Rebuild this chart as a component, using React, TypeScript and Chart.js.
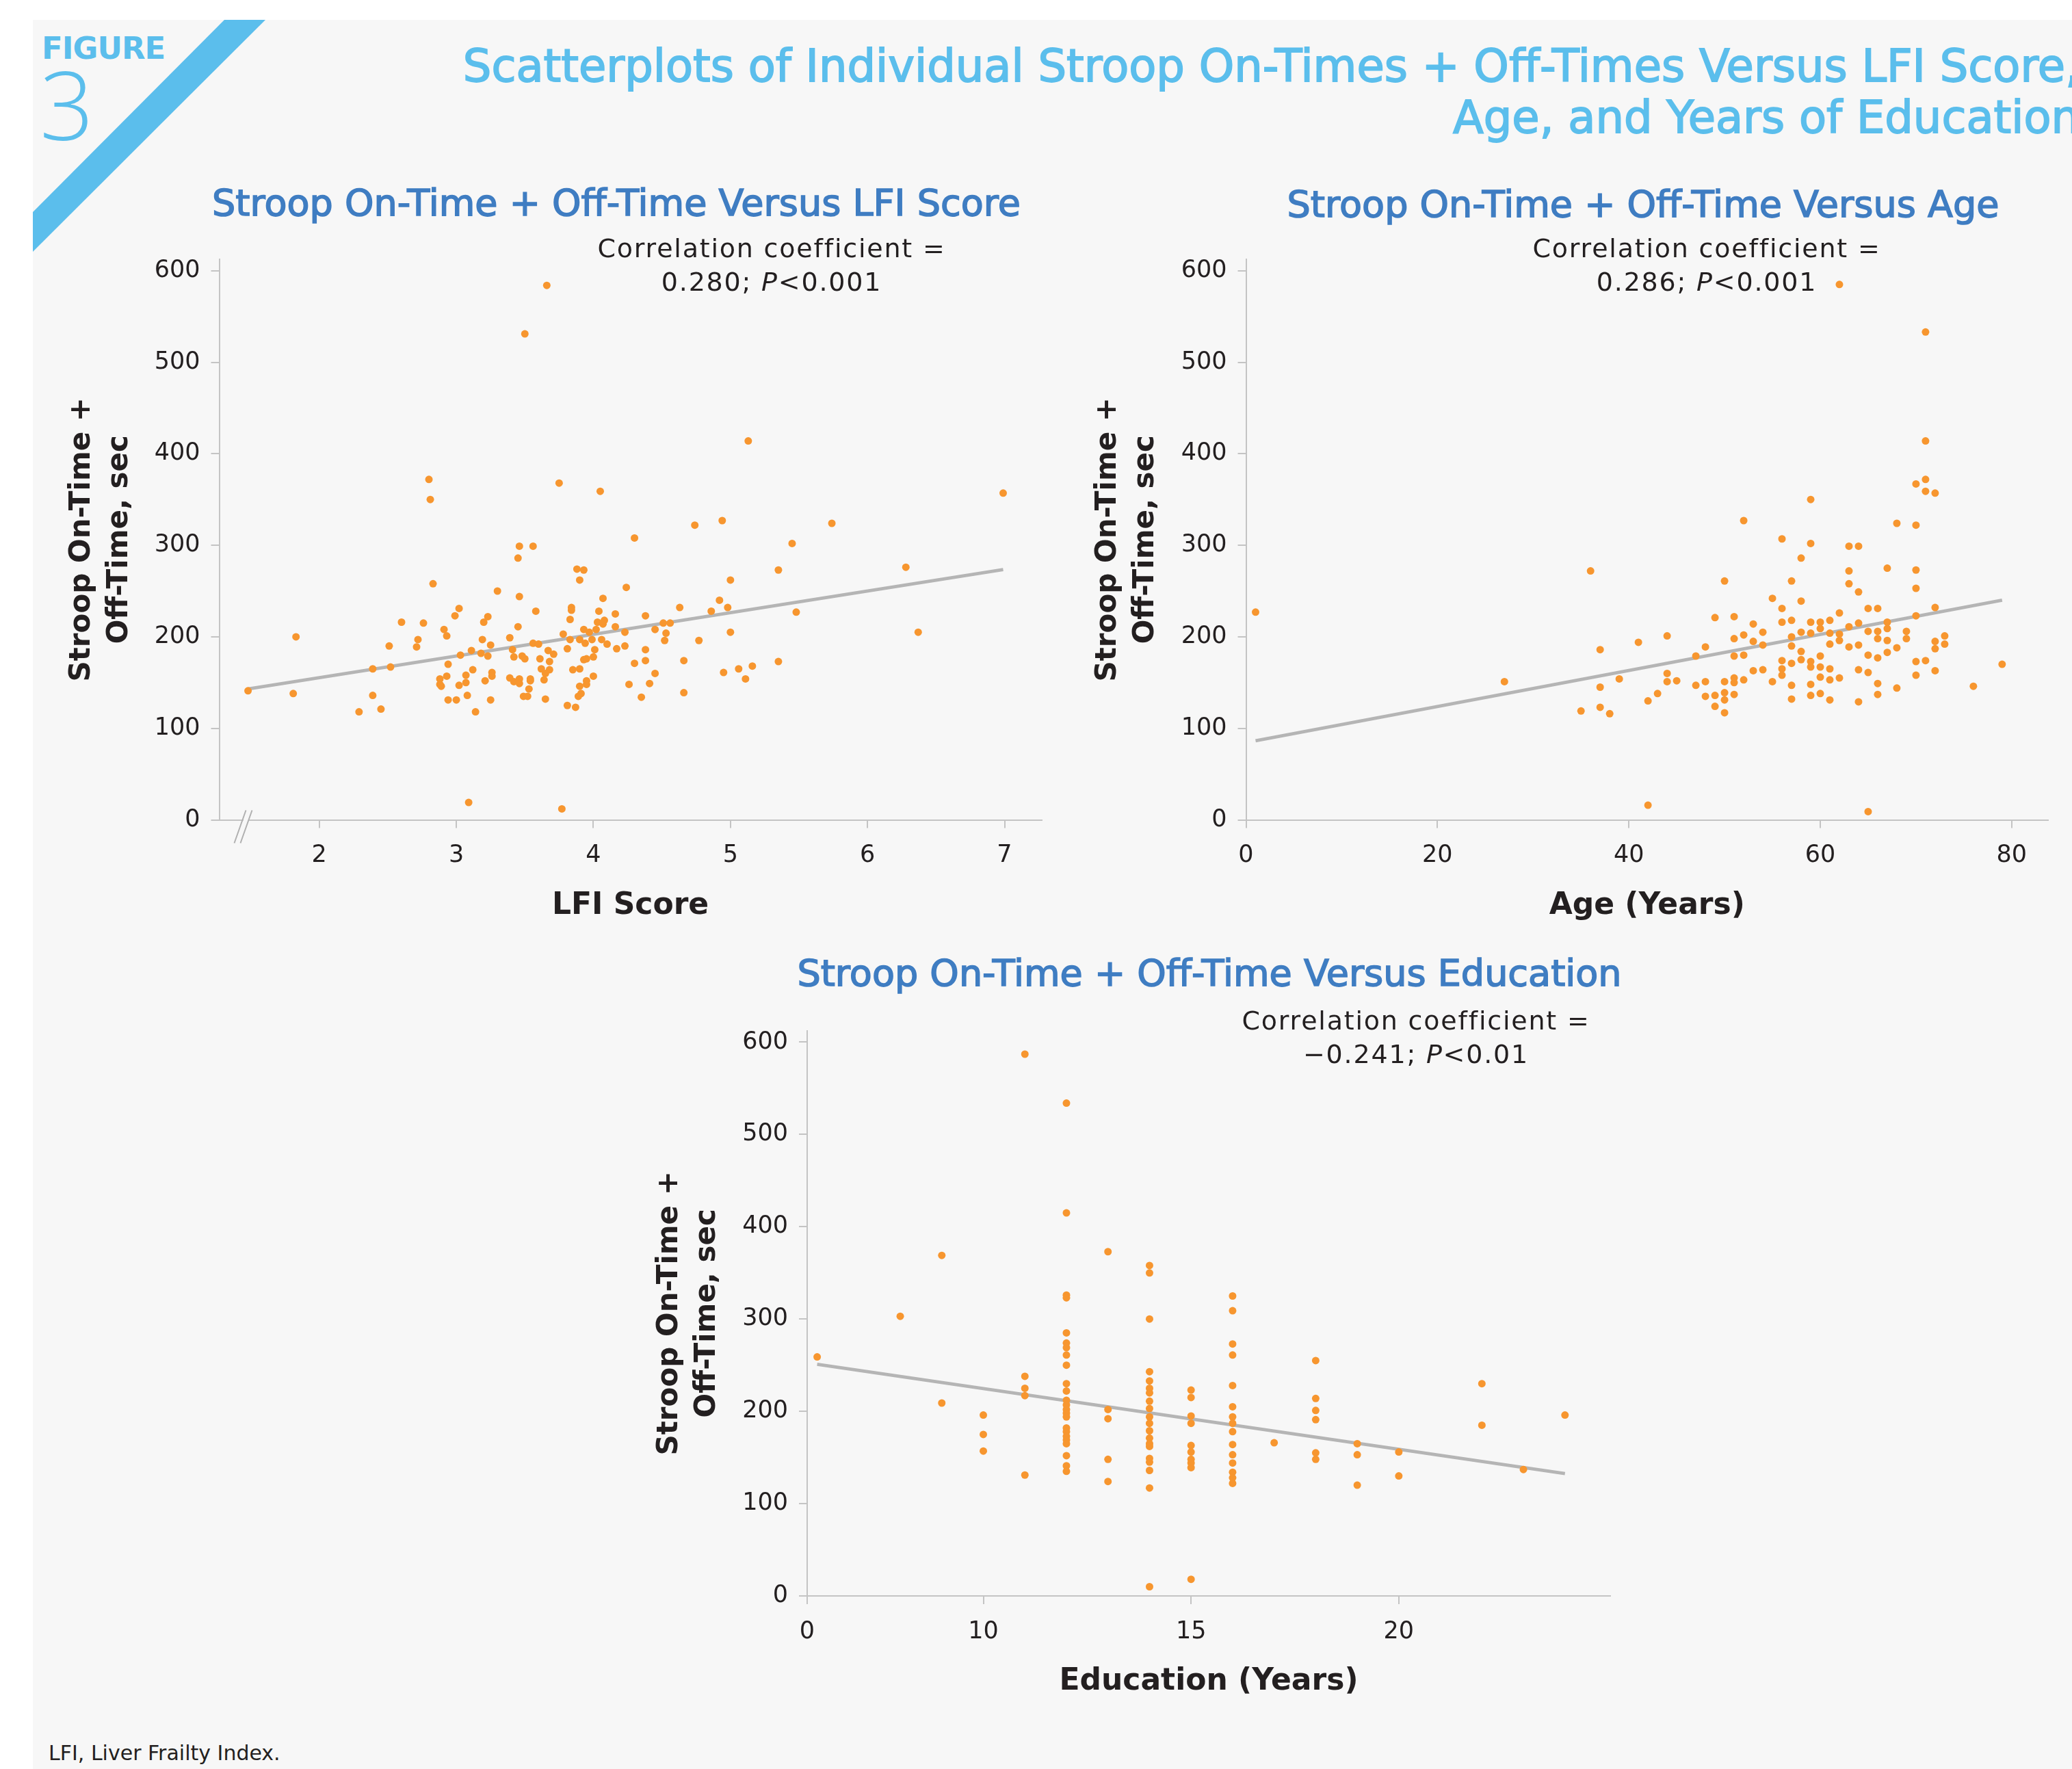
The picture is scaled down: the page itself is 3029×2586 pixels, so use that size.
import React, { useEffect, useRef } from "react";
import { Chart, registerables } from "chart.js";

Chart.register(...registerables);

// ---------------- data ----------------
const lfiScore = [
  4.30, 3.46, 3.56, 3.45, 3.88, 3.93, 3.90, 2.83, 3.30, 4.24,
  3.46, 4.07, 3.02, 2.99, 3.23, 3.20, 3.58, 3.84, 3.84, 3.83,
  4.04, 4.16, 4.38, 4.63, 2.60, 2.76, 2.91, 2.93, 3.45, 4.03,
  4.08, 4.07, 3.93, 4.02, 3.97, 4.16, 4.23, 4.45, 4.51, 4.56,
  4.53, 4.52, 3.78, 2.51, 2.72, 2.71, 3.19, 3.25, 3.39, 3.56,
  3.60, 3.83, 3.90, 3.94, 3.99, 4.06, 4.10, 4.23, 4.17, 3.81,
  4.01, 4.38, 2.39, 2.52, 3.03, 3.11, 3.18, 3.23, 3.41, 3.42,
  3.48, 3.50, 3.67, 3.71, 3.61, 3.68, 2.94, 3.12, 3.93, 3.95,
  4.00, 4.30, 4.38, 4.66, 3.62, 3.68, 3.65, 3.85, 3.90, 2.88,
  2.93, 2.89, 2.88, 3.07, 3.07, 3.02, 3.26, 3.26, 3.21, 3.39,
  3.42, 3.46, 3.46, 3.54, 3.54, 3.64, 3.53, 3.49, 3.52, 3.65,
  3.95, 3.90, 3.95, 4.00, 3.91, 3.89, 3.81, 3.87, 4.26, 4.41,
  4.45, 4.35, 4.66, 2.39, 2.45, 2.94, 3.00, 3.08, 3.25, 3.14,
  1.48, 1.81, 1.83, 2.29, 2.80, 2.81, 3.09, 3.50, 3.66, 3.75, 3.77, 4.05,
  4.74, 4.94, 5.13, 5.74, 5.45, 5.35, 5.00, 6.28, 6.99, 6.37, 5.48,
  4.92, 4.98, 4.86, 5.00, 4.77, 4.95, 5.06, 5.16, 5.11, 5.35,
];
const lfiStroop = [
  308, 299, 299, 286, 274, 273, 262, 258, 250, 254,
  244, 242, 231, 223, 222, 216, 228, 232, 229, 219,
  228, 225, 223, 232, 216, 215, 208, 201, 211, 216,
  218, 214, 208, 208, 205, 211, 205, 208, 215, 215,
  204, 196, 203, 190, 197, 189, 197, 191, 199, 193,
  192, 197, 197, 193, 197, 197, 192, 190, 187, 187,
  186, 186, 165, 167, 180, 185, 182, 179, 186, 178,
  179, 176, 185, 181, 176, 173, 170, 164, 175, 176,
  178, 171, 174, 174, 165, 164, 160, 164, 165, 154,
  157, 146, 148, 158, 150, 147, 161, 157, 152, 155,
  151, 154, 149, 154, 152, 153, 143, 135, 135, 132,
  152, 146, 148, 157, 138, 135, 125, 123, 148, 149,
  160, 134, 139, 136, 121, 131, 131, 136, 131, 118,
  141, 138, 200, 118, 372, 350, 19, 531, 584, 368, 12, 359,
  322, 327, 414, 324, 302, 273, 262, 276, 357, 205, 227,
  240, 232, 228, 205, 196, 161, 165, 168, 154, 173,
];

const ageYears = [
  1, 27, 35, 36, 37, 37, 37, 38, 39, 41, 42, 42, 43,
  44, 44, 44, 45, 47, 47, 48, 48, 48, 49, 49, 49,
  50, 50, 50, 50, 50, 51, 51, 51, 51, 51, 51, 52, 52, 52,
  53, 53, 53, 54, 54, 54, 55, 55,
  56, 56, 56, 56, 56, 56, 57, 57, 57, 57, 57, 57, 57,
  58, 58, 58, 58, 58, 59, 59, 59, 59, 59, 59, 59,
  60, 60, 60, 60, 60, 60, 61, 61, 61, 61, 61, 61,
  62, 62, 62, 62, 63, 63, 63, 63, 63, 64, 64, 64, 64, 64, 64,
  65, 65, 65, 65, 66, 66, 66, 66, 66, 66, 67, 67, 67, 67, 67,
  68, 68, 69, 69, 70, 70, 70, 70, 70, 71, 72, 72, 72, 72, 73, 73,
  62, 71, 71, 71, 70, 71, 72, 59, 52, 68, 70, 76, 79, 65,
];
const ageStroop = [
  227, 151, 119, 272, 186, 145, 123, 116, 154, 194, 130, 16, 138,
  201, 160, 151, 152, 179, 147, 189, 151, 135, 221, 136, 124,
  261, 151, 139, 131, 117, 222, 198, 179, 155, 150, 137, 202, 180, 153,
  214, 195, 163, 205, 191, 164, 242, 151,
  307, 231, 216, 174, 165, 158, 261, 218, 200, 190, 171, 147, 132,
  286, 239, 205, 184, 175, 302, 216, 204, 173, 167, 148, 136,
  216, 209, 179, 167, 156, 138, 218, 204, 192, 165, 153, 131,
  226, 203, 196, 155, 299, 272, 258, 211, 189, 299, 249, 215, 191, 164, 129,
  231, 206, 180, 161, 231, 206, 198, 177, 149, 137, 275, 216, 209, 196, 183,
  188, 144, 206, 198, 273, 253, 223, 173, 158, 174, 232, 195, 187, 163, 201, 192,
  585, 533, 414, 372, 367, 359, 357, 350, 327, 324, 322, 146, 170, 9,
];

const eduYears = [
  6, 8, 9, 9, 10, 10, 10, 11, 11, 11, 11, 11,
  12, 12, 12, 12, 12, 12, 12, 12, 12, 12, 12, 12,
  12, 12, 12, 12, 12, 12, 12, 12, 12, 12, 12, 12,
  13, 13, 13, 13, 13,
  14, 14, 14, 14, 14, 14, 14, 14, 14, 14,
  14, 14, 14, 14, 14, 14, 14, 14, 14, 14,
  15, 15, 15, 15, 15, 15, 15, 15, 15, 15,
  16, 16, 16, 16, 16, 16, 16, 16, 16, 16, 16, 16, 16, 16, 16,
  17, 18, 18, 18, 18, 18, 18, 19, 19, 19, 20, 20, 22, 22, 23, 24,
];
const eduStroop = [
  259, 303, 369, 209, 196, 175, 157, 587, 238, 225, 217, 131,
  534, 415, 326, 323, 285, 274, 269, 261, 250, 230, 222, 212,
  207, 202, 198, 194, 182, 178, 173, 169, 165, 152, 141, 135,
  373, 202, 192, 148, 124,
  358, 350, 300, 243, 233, 225, 220, 211, 203, 194,
  187, 179, 171, 165, 162, 149, 145, 136, 117, 10,
  223, 215, 195, 187, 163, 156, 148, 144, 139, 18,
  325, 309, 273, 261, 228, 205, 194, 187, 178, 164, 153, 144, 134, 128, 122,
  166, 255, 214, 201, 191, 155, 148, 165, 153, 120, 156, 130, 230, 185, 137, 196,
];

// regression lines (end points)
const lfiFitX = [1.48, 6.99];
const lfiFitY = [143, 273.4];
const ageFitX = [1, 79];
const ageFitY = [86.5, 240];
const eduFitX = [6, 24];
const eduFitY = [251, 132.5];

// ticks
const yTickValues = [0, 100, 200, 300, 400, 500, 600];
const lfiTickValues = [2, 3, 4, 5, 6, 7];
const ageTickValues = [0, 20, 40, 60, 80];
const eduAxisStart = 5.76; // broken axis: start is labelled "0"
const eduTickValues = [eduAxisStart, 10, 15, 20];
const eduTickLabels = ["0", "10", "15", "20"];

// ---------------- styles ----------------
const FONT = '"DejaVu Sans", sans-serif';
const INK = "#231F20";
const AXIS = "#C4C4C4";
const DOT = "#F7962F";
const FIT = "#B5B5B5";
const BG = "#F7F7F7";
const LIGHT_BLUE = "#5BBEEC";
const DARK_BLUE = "#3F7DC2";

type Pt = { x: number; y: number };
const zip = (xs: number[], ys: number[]): Pt[] => xs.map((x, i) => ({ x, y: ys[i] }));

interface PanelSpec {
  points: Pt[];
  fit: Pt[];
  xMin: number;
  xMax: number;
  xTicks: number[];
  xLabel: (v: number) => string;
  xTitle: string;
  canvas: { L: number; T: number; W: number; H: number };
  area: { l: number; t: number; r: number; b: number };
  yTitlePad: number;
  breakMark?: boolean;
}

const breakPlugin = {
  id: "axisBreak",
  afterDraw(chart: any) {
    const { ctx, chartArea: a } = chart;
    ctx.save();
    ctx.fillStyle = BG;
    ctx.beginPath();
    ctx.moveTo(a.left + 24, a.bottom + 32);
    ctx.lineTo(a.left + 40, a.bottom - 12);
    ctx.lineTo(a.left + 47, a.bottom - 12);
    ctx.lineTo(a.left + 31, a.bottom + 32);
    ctx.closePath();
    ctx.fill();
    ctx.strokeStyle = "#B0B0B0";
    ctx.lineWidth = 2;
    ctx.beginPath();
    ctx.moveTo(a.left + 22, a.bottom + 34);
    ctx.lineTo(a.left + 39, a.bottom - 14);
    ctx.moveTo(a.left + 31, a.bottom + 34);
    ctx.lineTo(a.left + 48, a.bottom - 14);
    ctx.stroke();
    ctx.restore();
  },
};

const TICK_FONT = { family: FONT, size: 35, lineHeight: 1.2 };
const X_TITLE_LH = 44 * 1.2;

function Panel({ spec }: { spec: PanelSpec }) {
  const ref = useRef<HTMLCanvasElement>(null);
  const cv = spec.canvas;
  useEffect(() => {
    const area = spec.area;
    const xAxisH = cv.T + cv.H - area.b;
    const chart = new Chart(ref.current as HTMLCanvasElement, {
      type: "scatter",
      data: {
        datasets: [
          {
            data: spec.points,
            backgroundColor: DOT,
            borderWidth: 0,
            pointRadius: 5.5,
            pointHoverRadius: 5.5,
            order: 0,
          } as any,
          {
            data: spec.fit,
            showLine: true,
            borderColor: FIT,
            borderWidth: 4.8,
            pointRadius: 0,
            fill: false,
            order: 1,
          } as any,
        ],
      },
      options: {
        animation: false,
        responsive: false,
        devicePixelRatio: 1,
        events: [],
        layout: {
          padding: { left: 0, top: area.t - cv.T, right: cv.L + cv.W - area.r, bottom: 0 },
        },
        plugins: { legend: { display: false }, tooltip: { enabled: false } },
        scales: {
          x: {
            type: "linear",
            min: spec.xMin,
            max: spec.xMax,
            afterFit: (s: any) => {
              s.height = xAxisH;
            },
            afterBuildTicks: (s: any) => {
              s.ticks = spec.xTicks.map((v) => ({ value: v }));
            },
            ticks: {
              callback: (v: any) => spec.xLabel(Number(v)),
              font: TICK_FONT,
              color: INK,
              padding: 19.5,
              maxRotation: 0,
              autoSkip: false,
            },
            grid: { display: true, drawOnChartArea: false, drawTicks: true, tickLength: 12, color: AXIS, lineWidth: 2 },
            border: { display: true, color: AXIS, width: 2 },
            title: {
              display: true,
              text: spec.xTitle,
              font: { family: FONT, size: 44, weight: "bold", lineHeight: 1.2 },
              color: INK,
              padding: { top: 0, bottom: xAxisH - 126 - X_TITLE_LH / 2 },
            },
          },
          y: {
            type: "linear",
            min: 0,
            max: 612.5,
            afterFit: (s: any) => {
              s.width = area.l - cv.L;
            },
            afterBuildTicks: (s: any) => {
              s.ticks = yTickValues.map((v) => ({ value: v }));
            },
            ticks: {
              callback: (v: any) => String(v),
              font: TICK_FONT,
              color: INK,
              padding: 16,
              autoSkip: false,
            },
            grid: { display: true, drawOnChartArea: false, drawTicks: true, tickLength: 12, color: AXIS, lineWidth: 2 },
            border: { display: true, color: AXIS, width: 2 },
            title: {
              display: true,
              text: ["Stroop On-Time +", "Off-Time, sec"],
              font: { family: FONT, size: 42, weight: "bold", lineHeight: 55 / 42 },
              color: INK,
              padding: { top: spec.yTitlePad, bottom: 0 },
            },
          },
        },
      } as any,
      plugins: spec.breakMark ? [breakPlugin as any] : [],
    });
    return () => chart.destroy();
  }, [spec]);
  return (
    <canvas
      ref={ref}
      width={cv.W}
      height={cv.H}
      style={{ position: "absolute", left: cv.L, top: cv.T, width: cv.W, height: cv.H }}
    />
  );
}

const lfiSpec: PanelSpec = {
  points: zip(lfiScore, lfiStroop),
  fit: zip(lfiFitX, lfiFitY),
  xMin: 1.27,
  xMax: 7.27,
  xTicks: lfiTickValues,
  xLabel: (v) => String(v),
  xTitle: "LFI Score",
  canvas: { L: 80, T: 329, W: 1480, H: 1040 },
  area: { l: 320.5, t: 379, r: 1522.6, b: 1198.5 },
  yTitlePad: 12.5,
  breakMark: true,
};

const ageSpec: PanelSpec = {
  points: zip(ageYears, ageStroop),
  fit: zip(ageFitX, ageFitY),
  xMin: 0,
  xMax: 83.8,
  xTicks: ageTickValues,
  xLabel: (v) => String(v),
  xTitle: "Age (Years)",
  canvas: { L: 1580, T: 329, W: 1449, H: 1040 },
  area: { l: 1821.5, t: 379, r: 2994, b: 1198.5 },
  yTitlePad: 12.5,
};

const eduSpec: PanelSpec = {
  points: zip(eduYears, eduStroop),
  fit: zip(eduFitX, eduFitY),
  xMin: eduAxisStart,
  xMax: 25.09,
  xTicks: eduTickValues,
  xLabel: (v) => {
    const i = eduTickValues.findIndex((t) => Math.abs(t - v) < 1e-6);
    return i >= 0 ? eduTickLabels[i] : String(v);
  },
  xTitle: "Education (Years)",
  canvas: { L: 940, T: 1456, W: 1450, H: 1047 },
  area: { l: 1180, t: 1506.6, r: 2354, b: 2333 },
  yTitlePad: 11.5,
};

const textBase: React.CSSProperties = {
  position: "absolute",
  fontFamily: FONT,
  whiteSpace: "nowrap",
  margin: 0,
};

function SubTitle({ cx, capY, text }: { cx: number; capY: number; text: string }) {
  const F = 54;
  return (
    <div
      style={{
        ...textBase,
        left: cx - 1000,
        width: 2000,
        textAlign: "center",
        top: capY - 0.48 * F,
        fontSize: F,
        lineHeight: `${F}px`,
        color: DARK_BLUE,
        WebkitTextStroke: `1.6px ${DARK_BLUE}`,
      }}
    >
      {text}
    </div>
  );
}

function Corr({ cx, capY, r, p }: { cx: number; capY: number; r: string; p: string }) {
  const F = 38;
  const L = 48.5;
  const off = (L - 1.164 * F) / 2 + 0.928 * F - 0.3645 * F;
  return (
    <div
      style={{
        ...textBase,
        left: cx - 500,
        width: 1000,
        textAlign: "center",
        top: capY - off,
        fontSize: F,
        lineHeight: `${L}px`,
        color: INK,
        letterSpacing: "1.8px",
      }}
    >
      Correlation coefficient =
      <br />
      {r}; <i>P</i>
      {p}
    </div>
  );
}

export default function App() {
  return (
    <div
      style={{
        position: "absolute",
        left: 0,
        top: 0,
        width: 3029,
        height: 2586,
        overflow: "hidden",
        background: "#FFFFFF",
      }}
    >
      <div style={{ position: "absolute", left: 48, top: 29, right: 0, bottom: 0, background: BG }} />
      <svg width={420} height={420} style={{ position: "absolute", left: 0, top: 0 }}>
        <polygon points="328,29 388,29 48,368 48,310" fill={LIGHT_BLUE} />
      </svg>
      <div
        style={{
          ...textBase,
          left: 61,
          top: 70 - 0.48 * 45,
          fontSize: 45,
          lineHeight: "45px",
          fontWeight: "bold",
          color: LIGHT_BLUE,
          letterSpacing: "-1px",
        }}
      >
        FIGURE
      </div>
      <div
        style={{
          ...textBase,
          fontFamily: '"Open Sans", sans-serif',
          fontWeight: 300,
          left: 58,
          top: 155.5 - 0.531 * 139,
          fontSize: 139,
          lineHeight: "139px",
          color: LIGHT_BLUE,
        }}
      >
        3
      </div>
      {[
        { t: "Scatterplots of Individual Stroop On-Times + Off-Times Versus LFI Score,", cap: 95.2 },
        { t: "Age, and Years of Education", cap: 170.2 },
      ].map((ln) => (
        <div
          key={ln.t}
          style={{
            ...textBase,
            right: -11,
            textAlign: "right",
            top: ln.cap - 0.48 * 65.5,
            fontSize: 65.5,
            lineHeight: "65.5px",
            color: LIGHT_BLUE,
            WebkitTextStroke: `1.8px ${LIGHT_BLUE}`,
          }}
        >
          {ln.t}
        </div>
      ))}

      <SubTitle cx={901} capY={296} text="Stroop On-Time + Off-Time Versus LFI Score" />
      <SubTitle cx={2402} capY={298} text="Stroop On-Time + Off-Time Versus Age" />
      <SubTitle cx={1768} capY={1422} text="Stroop On-Time + Off-Time Versus Education" />

      <Panel spec={lfiSpec} />
      <Panel spec={ageSpec} />
      <Panel spec={eduSpec} />

      <Corr cx={1128} capY={363} r="0.280" p="<0.001" />
      <Corr cx={2495} capY={363} r="0.286" p="<0.001" />
      <Corr cx={2070} capY={1492} r={"\u22120.241"} p="<0.01" />

      <div
        style={{
          ...textBase,
          left: 71,
          top: 2562.5 - 0.48 * 30,
          fontSize: 30,
          lineHeight: "30px",
          color: INK,
        }}
      >
        LFI, Liver Frailty Index.
      </div>
    </div>
  );
}
